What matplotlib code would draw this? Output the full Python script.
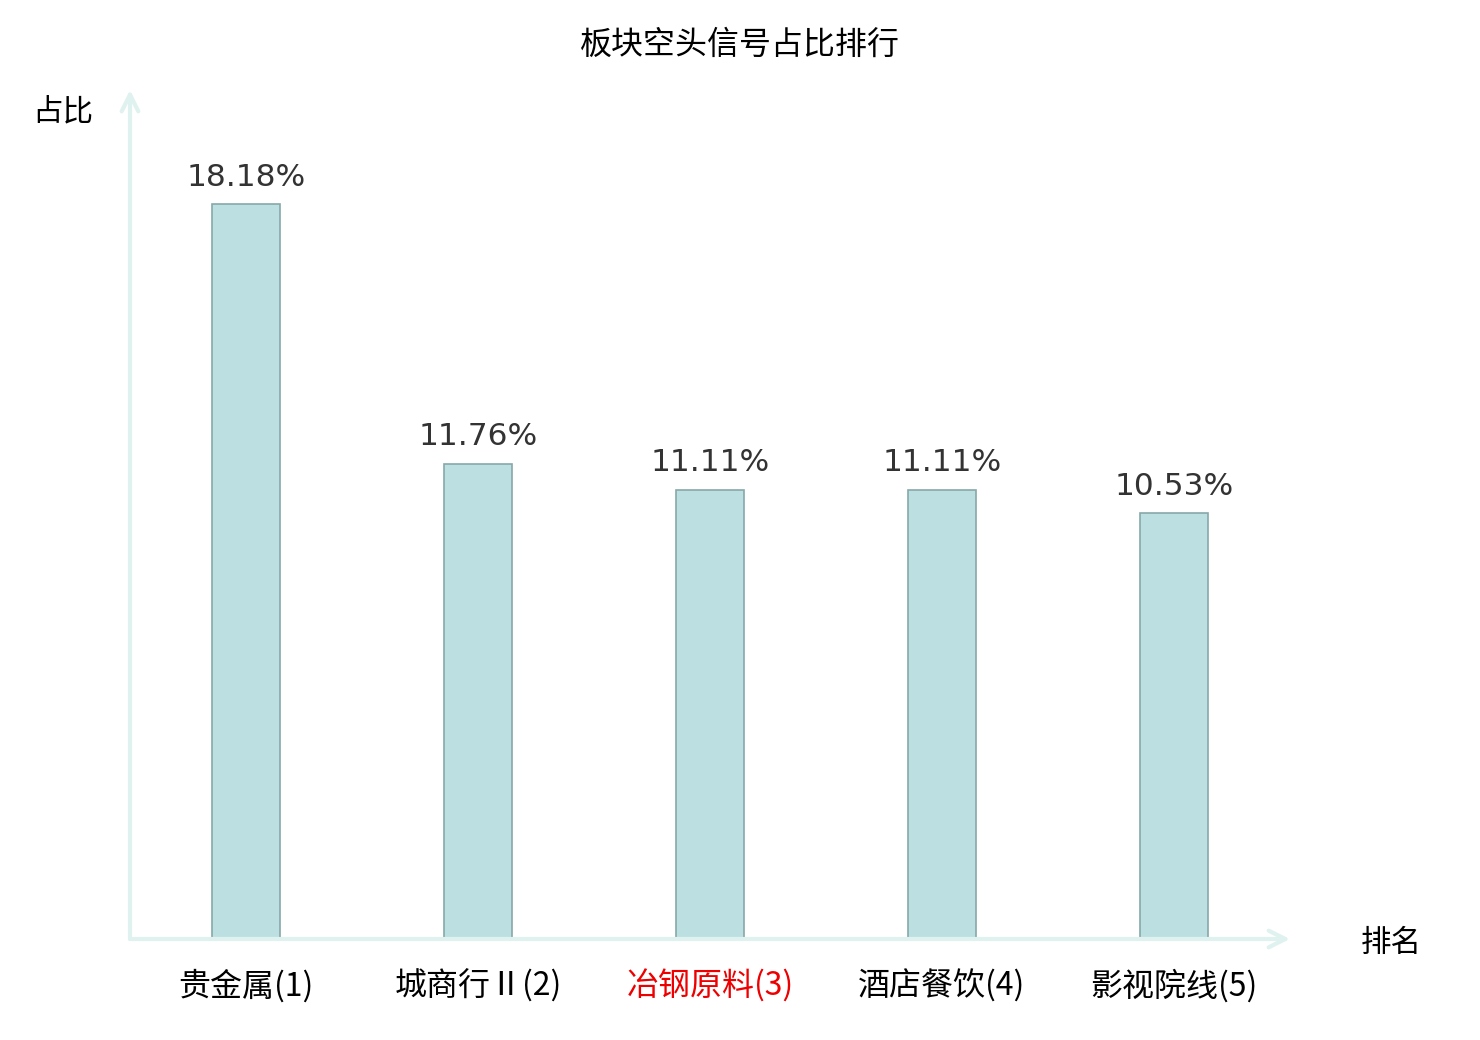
import matplotlib
matplotlib.use("Agg")
import matplotlib.pyplot as plt

categories = ["贵金属(1)", "城商行Ⅱ(2)", "冶钢原料(3)", "酒店餐饮(4)", "影视院线(5)"]
values = [18.18, 11.76, 11.11, 11.11, 10.53]
label_colors = ["#000000", "#000000", "#ee0000", "#000000", "#000000"]

cjk = ["Noto Sans CJK SC", "DejaVu Sans"]
axis_color = "#dff2ef"

fig = plt.figure(figsize=(14.8, 10.4), dpi=100)
ax = fig.add_axes([130 / 1480, 1 - 939 / 1040, 1160 / 1480, 849 / 1040])

x = list(range(len(categories)))
ax.bar(x, values, width=0.293, color="#bce0e1", edgecolor="#87a8a8", linewidth=1.2)

for xi, v in zip(x, values):
    ax.annotate(f"{v:.2f}%", (xi, v), xytext=(0, 9), textcoords="offset points",
                ha="center", va="bottom", fontsize=22.5, color="#333333")

ax.set_xlim(-0.5, 4.5)
ax.set_ylim(0, 21)
for s in ax.spines.values():
    s.set_visible(False)
ax.set_yticks([])
ax.set_xticks(x)
ax.set_xticklabels(categories, family=cjk, fontsize=23)
for lbl, c in zip(ax.get_xticklabels(), label_colors):
    lbl.set_color(c)
ax.tick_params(axis="x", length=0, pad=22)

# axis arrows
ax.annotate("", xy=(1.0, 0), xytext=(0, 0), xycoords="axes fraction",
            arrowprops=dict(arrowstyle="->", color=axis_color, lw=3,
                            mutation_scale=30, shrinkA=0, shrinkB=0))
ax.annotate("", xy=(0, 1.0), xytext=(0, 0), xycoords="axes fraction",
            arrowprops=dict(arrowstyle="->", color=axis_color, lw=3,
                            mutation_scale=30, shrinkA=0, shrinkB=0))

fig.text(63 / 1480, 1 - 112 / 1040, "占比", family=cjk, fontsize=22,
         ha="center", va="center")
fig.text(1391 / 1480, 1 - 943 / 1040, "排名", family=cjk, fontsize=22,
         ha="center", va="center")
fig.text(0.5, 1 - 45 / 1040, "板块空头信号占比排行", family=cjk, fontsize=23,
         ha="center", va="center")

fig.savefig("out.png", dpi=100)
